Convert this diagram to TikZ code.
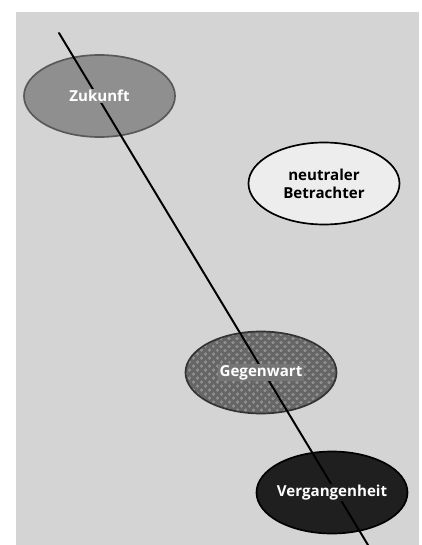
\documentclass[tikz,border=0pt]{standalone}
\usepackage{fontspec}
\setsansfont{Open Sans}
\usepackage{tikz}
\usetikzlibrary{shapes.geometric,patterns.meta}

\begin{document}
\begin{tikzpicture}[
    x=0.5mm,y=-0.5mm,
    el/.style={ellipse,draw,line width=2.4pt,minimum width=75.5mm,minimum height=41mm,inner sep=0pt},
    lbl/.style={font=\sffamily\bfseries\fontsize{21.5}{24}\selectfont,inner sep=2pt,align=center},
    zeit/.style={line width=2.8pt,line cap=round}
]
\useasboundingbox (0,0) rectangle (421,545);
\fill[black!17] (16,12) rectangle (419,545);

% ellipses
\node[el,fill=black!44,draw=black!65] (zuk) at (99.5,96) {};
\node[el,draw=black!80,preaction={fill=black!60},
      pattern={Dots[distance=2.8mm,radius=0.75mm,angle=45]},pattern color=black!44] (geg) at (261,372.5) {};
\node[el,fill=black!88,draw=black] (ver) at (332,492.5) {};
\node[el,fill=black!7,draw=black] (neu) at (324,183.5) {};

% time line
\coordinate (top) at (59,33);
\coordinate (bot) at (368,545);
\draw[zeit] (top) -- (bot);

% labels
\node[lbl,fill=black!44,text=white] (zukL) at (zuk) {Zukunft};
\node[lbl,fill=black!54,text=white] (gegL) at (geg) {Gegenwart};
\node[lbl,fill=black!88,text=white] (verL) at (ver) {Vergangenheit};
\node[lbl,text=black,font=\sffamily\bfseries\fontsize{21.5}{26}\selectfont] (neuL) at (neu) {neutraler\\Betrachter};
\end{tikzpicture}
\end{document}
